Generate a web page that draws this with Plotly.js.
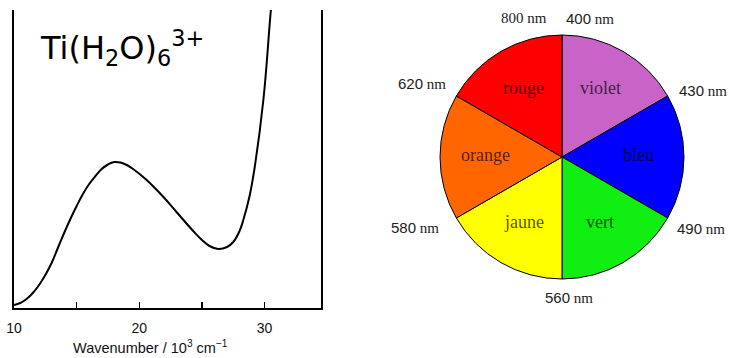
<!DOCTYPE html>
<html>
<head>
<meta charset="utf-8">
<script src="https://cdn.plot.ly/plotly-3.0.1.min.js"></script>
<style>html,body{margin:0;padding:0;background:#fff;}#chart{width:729px;height:358px;}</style>
</head>
<body>
<div id="chart"></div>
<script>
// ---- data ----
const wavenumber = [10.0, 10.5, 11.0, 11.5, 12.0, 12.5, 13.0, 13.5, 14.0, 14.5, 15.0, 15.5, 16.0, 16.5, 17.0, 17.5, 18.0, 18.5, 19.0, 19.5, 20.5, 21.4, 22.0, 22.9, 24.3, 25.0, 25.6, 26.3, 27.0, 27.5, 28.0, 28.3, 28.8, 29.2, 29.9, 30.5, 30.7];
const absorbance = [3, 5, 9, 15, 23, 33, 45, 60, 75, 89, 102, 114, 124, 132, 139, 143.5, 146, 145.5, 143, 139, 129, 118, 110, 97, 77, 68, 62, 59, 61, 66, 77, 88, 112, 140, 208, 298, 322];
const xTickVals = [10, 20, 30];
const xTickText = ['10', '20', '30'];
const xMinorVals = [15, 25];
const xTitle = 'Wavenumber / 10<sup>3</sup> cm<sup>−1</sup>';
const spectrumTitle = 'Ti(H<sub>2</sub>O)<sub>6</sub><sup>3+</sup>';

const colourNames = ['violet', 'bleu', 'vert', 'jaune', 'orange', 'rouge'];
const sliceValues = [1, 1, 1, 1, 1, 1];
const sliceColours = ['#c864c8', '#0000ff', '#11ee11', '#ffff00', '#ff6600', '#ff0000'];
const boundaryNumbers = ['800', '400', '620', '430', '580', '490', '560'];

// ---- layout helpers ----
const W = 729, H = 358;
const px = x => x / W;
const py = y => 1 - y / H;

const pieCx = 562, pieCy = 157, pieR = 122;

const annotations = [];
// handwritten-style title
annotations.push({xref: 'paper', yref: 'paper', x: px(38), y: py(48), xanchor: 'left', yanchor: 'middle',
  text: spectrumTitle, showarrow: false, font: {family: 'DejaVu Sans', size: 32, color: '#000'}});
// x-axis title
annotations.push({xref: 'paper', yref: 'paper', x: px(150), y: py(347), xanchor: 'center', yanchor: 'middle',
  text: xTitle, showarrow: false, font: {family: 'Liberation Sans', size: 14.5, color: '#111'}});

// slice labels
colourNames.forEach((name, i) => {
  const a = (i + 0.5) * Math.PI / 3;
  const r = 0.63 * pieR;
  annotations.push({xref: 'paper', yref: 'paper', x: px(pieCx + r * Math.sin(a)), y: py(pieCy - r * Math.cos(a) - 2),
    xanchor: 'center', yanchor: 'middle', text: name, showarrow: false,
    font: {family: 'Liberation Serif', size: 18, color: 'rgba(0,0,0,0.7)'}});
});

// boundary wavelength labels
const boundaryPos = [[524, 18], [590, 18], [422, 83], [703, 90], [415, 227], [701, 228], [569, 297]];
boundaryNumbers.forEach((n, i) => {
  const txt = (n === '800') ? n + ' nm' : '<span style="font-family:Liberation Sans">' + n + '</span> nm';
  annotations.push({xref: 'paper', yref: 'paper', x: px(boundaryPos[i][0]), y: py(boundaryPos[i][1]),
    xanchor: 'center', yanchor: 'middle', text: txt, showarrow: false,
    font: {family: 'Liberation Serif', size: 15, color: '#222'}});
});

const traces = [
  {type: 'scatter', mode: 'lines', x: wavenumber, y: absorbance, xaxis: 'x', yaxis: 'y',
   line: {color: '#000', width: 2, shape: 'spline', smoothing: 1.2}, hoverinfo: 'skip'},
  {type: 'pie', labels: colourNames, values: sliceValues, sort: false, direction: 'clockwise', rotation: 0,
   marker: {colors: sliceColours, line: {color: '#000', width: 1}}, textinfo: 'none', hoverinfo: 'label',
   domain: {x: [px(pieCx - pieR), px(pieCx + pieR)], y: [py(pieCy + pieR), py(pieCy - pieR)]}}
];

const layout = {
  width: W, height: H, margin: {l: 0, r: 0, t: 0, b: 0}, showlegend: false,
  paper_bgcolor: '#fff', plot_bgcolor: 'rgba(0,0,0,0)',
  xaxis: {domain: [px(14), px(321)], range: [10, 34.5], showgrid: false, zeroline: false,
    showline: true, linecolor: '#000', linewidth: 2, ticks: 'inside', ticklen: 6, tickwidth: 1.5, tickcolor: '#000',
    tickvals: xTickVals, ticktext: xTickText, ticklabelstandoff: 6,
    tickfont: {family: 'Liberation Sans', size: 14, color: '#111'},
    minor: {tickvals: xMinorVals, ticks: 'inside', ticklen: 6, tickwidth: 1.5, tickcolor: '#000', showgrid: false}},
  yaxis: {domain: [py(308), py(10)], range: [0, 298], showgrid: false, zeroline: false, showticklabels: false,
    ticks: '', showline: true, mirror: true, linecolor: '#000', linewidth: 2},
  annotations: annotations
};

Plotly.newPlot('chart', traces, layout, {displayModeBar: false, staticPlot: true});
</script>
</body>
</html>
